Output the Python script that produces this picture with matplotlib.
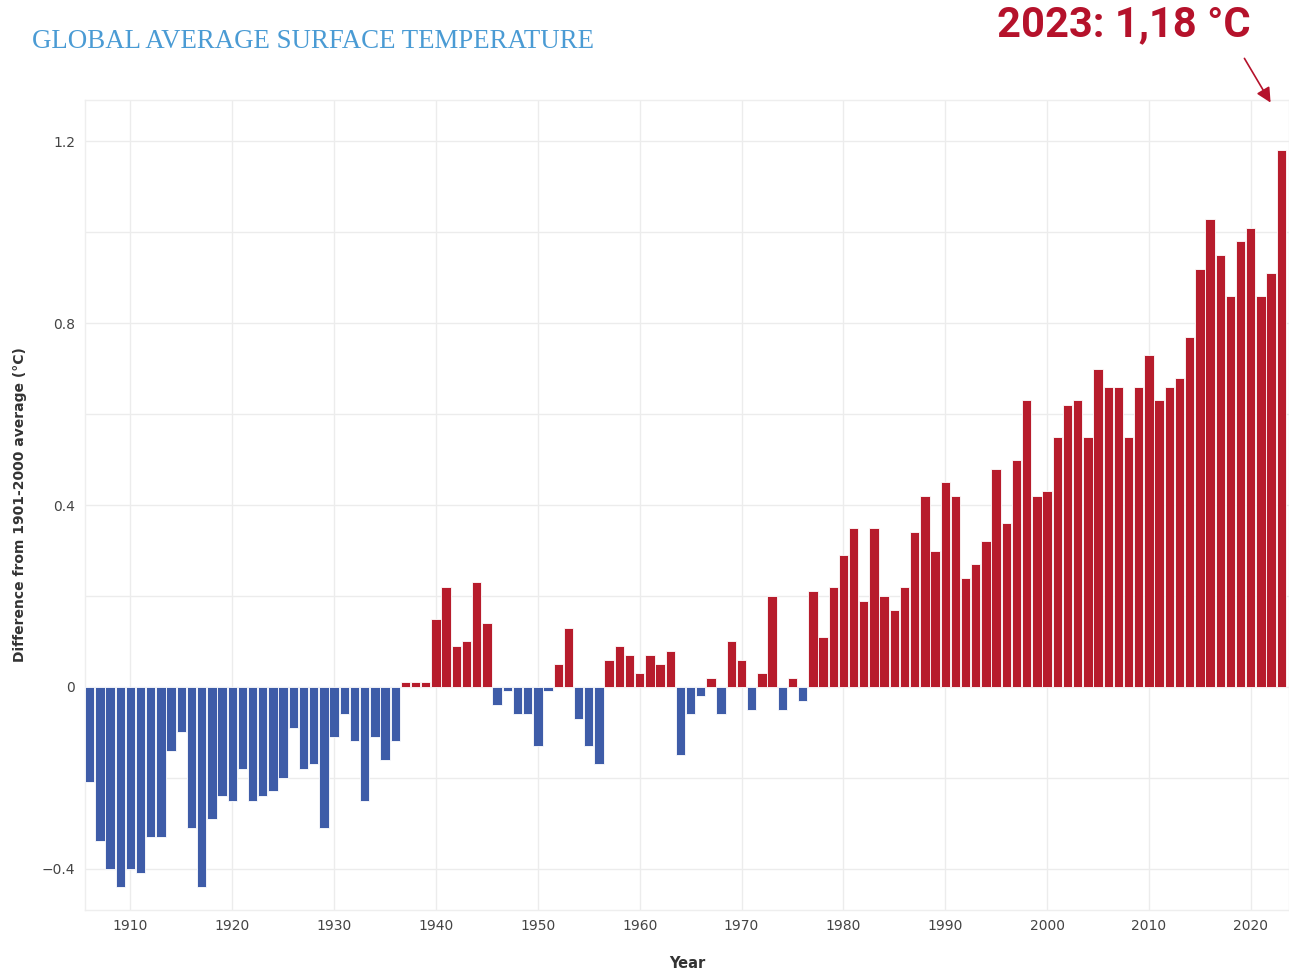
import numpy as np
import matplotlib
matplotlib.use('Agg')
import matplotlib.pyplot as plt

# Global average surface temperature anomaly vs 1901-2000 average
years = list(range(1906, 2024))
anomaly = [
    -0.21, -0.34, -0.40, -0.44, -0.40, -0.41, -0.33, -0.33, -0.14, -0.10,   # 1906-1915
    -0.31, -0.44, -0.29, -0.24, -0.25, -0.18, -0.25, -0.24, -0.23, -0.20,   # 1916-1925
    -0.09, -0.18, -0.17, -0.31, -0.11, -0.06, -0.12, -0.25, -0.11, -0.16,   # 1926-1935
    -0.12, 0.01, 0.01, 0.01, 0.15, 0.22, 0.09, 0.10, 0.23, 0.14,            # 1936-1945
    -0.04, -0.01, -0.06, -0.06, -0.13, -0.01, 0.05, 0.13, -0.07, -0.13,     # 1946-1955
    -0.17, 0.06, 0.09, 0.07, 0.03, 0.07, 0.05, 0.08, -0.15, -0.06,          # 1956-1965
    -0.02, 0.02, -0.06, 0.10, 0.06, -0.05, 0.03, 0.20, -0.05, 0.02,         # 1966-1975
    -0.03, 0.21, 0.11, 0.22, 0.29, 0.35, 0.19, 0.35, 0.20, 0.17,            # 1976-1985
    0.22, 0.34, 0.42, 0.30, 0.45, 0.42, 0.24, 0.27, 0.32, 0.48,             # 1986-1995
    0.36, 0.50, 0.63, 0.42, 0.43, 0.55, 0.62, 0.63, 0.55, 0.70,             # 1996-2005
    0.66, 0.66, 0.55, 0.66, 0.73, 0.63, 0.66, 0.68, 0.77, 0.92,             # 2006-2015
    1.03, 0.95, 0.86, 0.98, 1.01, 0.86, 0.91, 1.18,                         # 2016-2023
]
x_ticks = [1910, 1920, 1930, 1940, 1950, 1960, 1970, 1980, 1990, 2000, 2010, 2020]
y_ticks = [-0.4, 0, 0.4, 0.8, 1.2]
y_tick_labels = ['−0.4', '0', '0.4', '0.8', '1.2']

blue = '#3e5ca8'
red = '#b71c2c'
colors = [red if v > 0 else blue for v in anomaly]

fig = plt.figure(figsize=(12.89, 9.75), dpi=100)
ax = fig.add_axes([0.066, 0.067, 0.934, 0.830])

ax.bar(years, anomaly, width=0.92, color=colors, edgecolor='white', linewidth=0.6, zorder=3)

ax.set_xlim(1905.55, 2023.75)
ax.set_ylim(-0.49, 1.29)
ax.set_xticks(x_ticks)
ax.set_yticks(y_ticks)
ax.set_yticklabels(y_tick_labels)
ax.set_yticks(np.arange(-0.4, 1.21, 0.2), minor=True)
ax.grid(True, which='major', color='#ececec', linewidth=1, zorder=0)
ax.grid(True, which='minor', axis='y', color='#ececec', linewidth=1, zorder=0)
ax.tick_params(which='both', length=0, labelsize=10, colors='#444444', pad=7)
for s in ax.spines.values():
    s.set_color('#eeeeee')
    s.set_linewidth(1)

ax.set_xlabel('Year', fontsize=10.5, fontweight='bold', color='#333333', labelpad=16)
ax.set_ylabel('Difference from 1901-2000 average (°C)', fontsize=10, fontweight='bold',
              color='#333333')
ax.yaxis.set_label_coords(-0.048, 0.5)

fig.text(0.025, 0.957, 'GLOBAL AVERAGE SURFACE TEMPERATURE', fontsize=19.4,
         family=['Liberation Serif', 'DejaVu Serif'], color='#4a9bd4', va='center', ha='left')

fig.text(0.97, 0.975, '2023: 1,18 °C', fontsize=30, fontweight='bold',
         family=['Roboto', 'DejaVu Sans'], color='#b5122b',
         va='center', ha='right')

fig.patches.append(matplotlib.patches.FancyArrowPatch(
    (1243 / 1289, 1 - 56 / 975), (1272 / 1289, 1 - 105 / 975), transform=fig.transFigure,
    arrowstyle='-|>', mutation_scale=22, color='#b5122b', linewidth=1.2))

fig.savefig('out.png', dpi=100)
